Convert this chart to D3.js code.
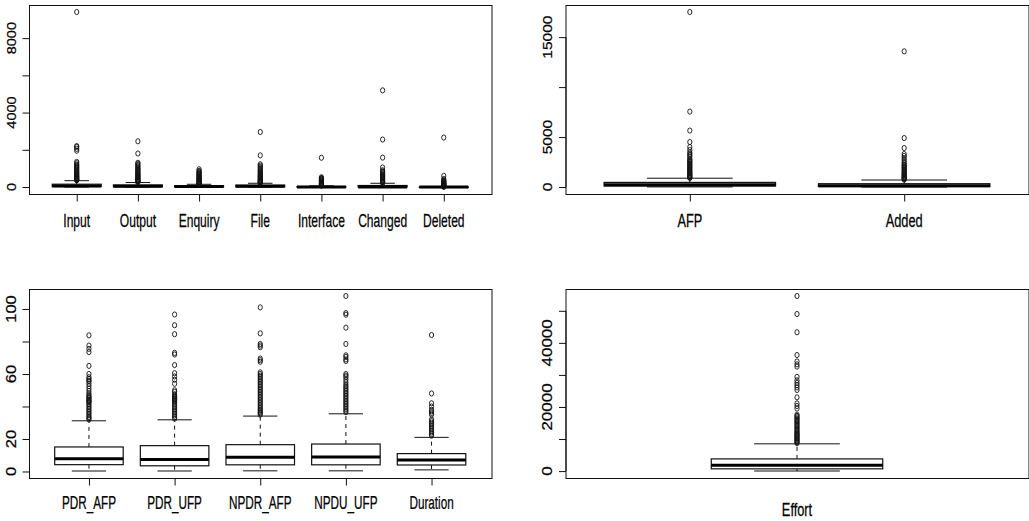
<!DOCTYPE html>
<html>
<head>
<meta charset="utf-8">
<script src="https://cdn.jsdelivr.net/npm/d3@7/dist/d3.min.js"></script>
<style>
body { margin: 0; background: #fff; }
</style>
</head>
<body>
<script>
// ---- top left: function point components ----
var fpNames = ["Input", "Output", "Enquiry", "File", "Interface", "Changed", "Deleted"];
var fpLow  = [0, 0, 0, 0, 0, 0, 0];
var fpQ1   = [25, 15, 5, 10, 0, 0, 0];
var fpMed  = [55, 42, 24, 36, 0, 0, 0];
var fpQ3   = [150, 110, 70, 100, 25, 80, 0];
var fpHigh = [340, 240, 146, 200, 62, 200, 0];
var fpOut = [
  [360,380,400,420,450,480,510,540,570,600,640,680,720,760,800,850,900,950,1000,1050,1100,1150,1200,1280,1350,1950,2050,2150,2200,9404],
  [260,280,300,330,360,390,420,460,500,540,580,620,660,700,750,800,850,900,950,1000,1060,1120,1180,1250,1300,1800,2455],
  [160,180,200,220,240,260,290,320,350,380,410,440,470,500,540,580,620,660,700,740,780,820,870,952],
  [220,240,260,290,320,350,380,410,450,490,530,570,610,650,700,750,800,850,900,960,1020,1080,1150,1220,1700,2955],
  [70,90,110,130,150,170,190,210,240,270,300,330,360,390,420,450,480,520,1572],
  [220,240,270,300,330,360,400,440,480,520,560,600,640,690,740,790,840,900,1050,1580,2550,5193],
  [10,25,40,55,70,90,110,130,150,170,190,210,240,270,300,330,360,430,600,2657]
];
var fpTicks = [0, 2000, 4000, 6000, 8000];
var fpTickLabels = ["0", "", "4000", "", "8000"];

// ---- top right: size ----
var sizeNames = ["AFP", "Added"];
var sizeLow  = [9, 0];
var sizeQ1   = [95, 40];
var sizeMed  = [215, 135];
var sizeQ3   = [460, 330];
var sizeHigh = [880, 700];
var sizeOut = [
  [900,960,1020,1100,1180,1260,1340,1420,1500,1600,1700,1800,1900,2000,2100,2200,2300,2400,2500,2600,2700,2800,3000,3150,3300,3450,3700,4000,4500,5650,7550,17518],
  [740,800,860,920,1000,1080,1160,1240,1320,1400,1500,1600,1700,1800,1900,2000,2100,2200,2350,2500,2700,2900,3100,3300,3900,4900,13580]
];
var sizeTicks = [0, 5000, 10000, 15000];
var sizeTickLabels = ["0", "5000", "", "15000"];

// ---- bottom left: productivity rates and duration ----
var rateNames = ["PDR_AFP", "PDR_UFP", "NPDR_AFP", "NPDU_UFP", "Duration"];
var rateLow  = [0.3, 0.3, 0.4, 0.4, 1];
var rateQ1   = [4.2, 3.5, 4.1, 4.1, 4];
var rateMed  = [7.9, 7.4, 8.7, 8.9, 7];
var rateQ3   = [15.1, 15.9, 16.5, 16.9, 11];
var rateHigh = [31.2, 31.8, 34.1, 35.5, 21];
var rateOut = [
  [32,32.8,33.5,34.5,35.5,36.5,37.5,38.5,39.5,40.5,41.5,42.5,43,43.5,44,45,45.5,46,47,48,49.5,51,52.5,54,55.5,56,57,58,60,65,73.5,75.5,77.5,83.8],
  [32.5,33.5,34.5,35.5,36.5,37.5,38.5,39.5,40.5,41.5,42.5,43.5,44,44.5,45,45.5,46,46.5,47.5,49,50,54,56.5,58.5,60.5,65.5,72,73,84.5,90,96.6],
  [35,35.8,36.5,37.3,38,39,40,41,42,43,44,45,46,47,48,49,50,51,52,53,54,55,56,57,58,59,60,61,67.5,68.5,69.5,76.5,77.5,78.5,85,101],
  [36.5,37.5,38.5,39.5,40.5,41.5,42.5,43.5,44.5,45.5,46.5,47.5,48.5,49.5,50.5,51.5,52.5,53.5,55,56.5,58,59,60,68,69,70.5,71.5,78.5,88.5,96.5,97.5,108],
  [22,23,24,25,26,27,28,29,30,31,32,35,36,37,38,40,42,48,84]
];
var rateTicks = [0, 20, 40, 60, 80, 100];
var rateTickLabels = ["0", "20", "", "60", "", "100"];

// ---- bottom right: effort ----
var effortNames = ["Effort"];
var effortLow  = [26];
var effortQ1   = [700];
var effortMed  = [1829];
var effortQ3   = [3800];
var effortHigh = [8500];
var effortOut = [
  [8700,9000,9300,9600,9900,10200,10500,10800,11100,11400,11700,12000,12400,12800,13200,13600,14000,14400,14800,15200,15600,16000,16400,16800,17200,17600,19500,20300,21100,23000,25300,26100,26800,27500,28300,29400,32600,33300,34200,36200,43300,49000,54620]
];
var effortTicks = [0, 10000, 20000, 30000, 40000, 50000];
var effortTickLabels = ["0", "", "20000", "", "40000", ""];

var W = 1029, H = 521;
var svg = d3.select("body").append("svg").attr("width", W).attr("height", H);

var panels = [
  {names: fpNames, lo: fpLow, q1: fpQ1, med: fpMed, q3: fpQ3, hi: fpHigh, out: fpOut,
   ticks: fpTicks, labels: fpTickLabels, x0: 29, x1: 491.5, y0: 5, y1: 194,
   yFont: 14.5, xScaleText: 0.69, labelY: 226.5, xlab: false},
  {names: sizeNames, lo: sizeLow, q1: sizeQ1, med: sizeMed, q3: sizeQ3, hi: sizeHigh, out: sizeOut,
   ticks: sizeTicks, labels: sizeTickLabels, x0: 565.5, x1: 1028.5, y0: 5, y1: 194,
   yFont: 15.5, xScaleText: 0.73, labelY: 226.5, xlab: false},
  {names: rateNames, lo: rateLow, q1: rateQ1, med: rateMed, q3: rateQ3, hi: rateHigh, out: rateOut,
   ticks: rateTicks, labels: rateTickLabels, x0: 29, x1: 491.5, y0: 289, y1: 478,
   yFont: 16.5, xScaleText: 0.67, labelY: 509, xlab: false},
  {names: effortNames, lo: effortLow, q1: effortQ1, med: effortMed, q3: effortQ3, hi: effortHigh, out: effortOut,
   ticks: effortTicks, labels: effortTickLabels, x0: 565.5, x1: 1028.5, y0: 289, y1: 478,
   yFont: 17, xScaleText: 0.73, labelY: 515.5, xlab: true}
];

var ink = "#111";

panels.forEach(function(p, k) {
  var g = svg.append("g").attr("class", "panel" + k);

  // x positions like R boxplot: 1..n, or centre of a two-slot axis for a single box
  var n = p.xlab ? 2 : p.names.length;
  var pos = p.names.map(function(d, i) { return p.xlab ? 1.5 : i + 1; });
  var x = d3.scaleLinear()
    .domain([0.5 - 0.04 * n, n + 0.5 + 0.04 * n])
    .range([p.x0, p.x1]);

  var allVals = p.lo.concat(p.hi, d3.merge(p.out));
  var ext = d3.extent(allVals), pad = (ext[1] - ext[0]) * 0.04;
  var y = d3.scaleLinear().domain([ext[0] - pad, ext[1] + pad]).range([p.y1, p.y0]);

  // frame
  g.append("rect")
    .attr("x", p.x0 + 0.5).attr("y", p.y0 + 0.5)
    .attr("width", p.x1 - p.x0).attr("height", p.y1 - p.y0)
    .attr("fill", "none").attr("stroke", ink).attr("stroke-width", 1);

  // y axis
  var yAxis = g.append("g")
    .attr("transform", "translate(" + (p.x0 + 0.5) + ",0)")
    .call(d3.axisLeft(y).tickValues(p.ticks).tickSize(7).tickSizeOuter(0).tickFormat(""));
  yAxis.select(".domain").remove();
  yAxis.append("line")
    .attr("y1", y(p.ticks[0])).attr("y2", y(p.ticks[p.ticks.length - 1]))
    .attr("stroke", ink);
  yAxis.selectAll(".tick line").attr("stroke", ink);

  g.selectAll("text.ylab")
    .data(p.ticks)
    .enter().append("text")
    .attr("class", "ylab")
    .attr("transform", function(d) {
      return "translate(" + (p.x0 - 13.5) + "," + y(d) + ") scale(0.85,1) rotate(-90)";
    })
    .attr("text-anchor", "middle")
    .attr("font-family", "Liberation Sans, Arial, sans-serif")
    .attr("font-size", p.yFont)
    .attr("fill", "#000")
    .attr("stroke", "#000").attr("stroke-width", 0.25)
    .text(function(d, i) { return p.labels[i]; });

  // x axis or x label
  if (!p.xlab) {
    var xAxis = g.append("g")
      .attr("transform", "translate(0," + (p.y1 + 0.5) + ")")
      .call(d3.axisBottom(x).tickValues(pos).tickSize(7).tickSizeOuter(0).tickFormat(""));
    xAxis.select(".domain").remove();
    xAxis.selectAll(".tick line").attr("stroke", ink);
  }
  g.selectAll("text.xlab")
    .data(p.names)
    .enter().append("text")
    .attr("class", "xlab")
    .attr("transform", function(d, i) {
      return "translate(" + x(pos[i]) + "," + p.labelY + ") scale(" + p.xScaleText + ",1)";
    })
    .attr("text-anchor", "middle")
    .attr("font-family", "Liberation Sans, Arial, sans-serif")
    .attr("font-size", 17.5)
    .attr("fill", "#000")
    .attr("stroke", "#000").attr("stroke-width", 0.25)
    .text(function(d) { return d; });

  // boxes
  var boxW = 0.8, capW = 0.4;
  p.names.forEach(function(name, i) {
    var c = pos[i];
    var bg = g.append("g").attr("class", "box " + name);

    // whiskers (dashed)
    bg.append("line")
      .attr("x1", x(c)).attr("x2", x(c))
      .attr("y1", y(p.q3[i])).attr("y2", y(p.hi[i]))
      .attr("stroke", ink).attr("stroke-dasharray", "4,4");
    bg.append("line")
      .attr("x1", x(c)).attr("x2", x(c))
      .attr("y1", y(p.q1[i])).attr("y2", y(p.lo[i]))
      .attr("stroke", ink).attr("stroke-dasharray", "4,4");

    // staples
    [p.lo[i], p.hi[i]].forEach(function(v) {
      bg.append("line")
        .attr("x1", x(c - capW / 2)).attr("x2", x(c + capW / 2))
        .attr("y1", y(v)).attr("y2", y(v))
        .attr("stroke", ink);
    });

    // box
    bg.append("rect")
      .attr("x", x(c - boxW / 2)).attr("width", x(c + boxW / 2) - x(c - boxW / 2))
      .attr("y", y(p.q3[i])).attr("height", Math.max(y(p.q1[i]) - y(p.q3[i]), 0.5))
      .attr("fill", "#fff").attr("stroke", ink).attr("stroke-width", 1.2);

    // median
    bg.append("line")
      .attr("x1", x(c - boxW / 2)).attr("x2", x(c + boxW / 2))
      .attr("y1", y(p.med[i])).attr("y2", y(p.med[i]))
      .attr("stroke", "#000").attr("stroke-width", 3);

    // outliers
    bg.selectAll("ellipse")
      .data(p.out[i])
      .enter().append("ellipse")
      .attr("cx", x(c))
      .attr("cy", function(d) { return y(d); })
      .attr("rx", 2.1).attr("ry", 2.6)
      .attr("fill", "none").attr("stroke", ink).attr("stroke-width", 0.9);
  });
});
</script>
</body>
</html>
